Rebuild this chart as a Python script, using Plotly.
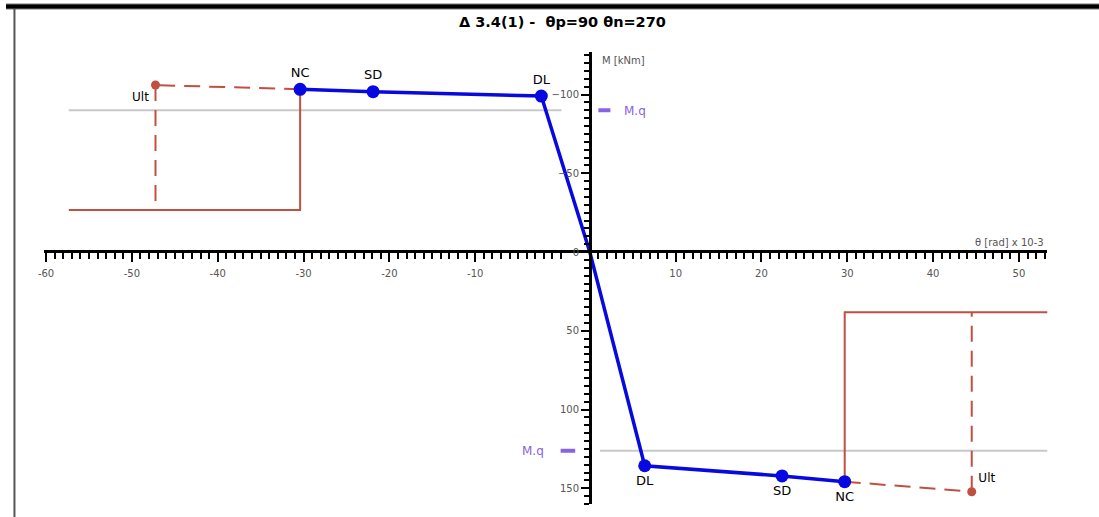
import plotly.graph_objects as go

# ---------------- data (theta in rad x 10^-3, M in kNm) ----------------
point_labels = ["DL", "SD", "NC"]
theta_neg = [-5.65, -25.25, -33.75]
moment_neg = [-99.0, -101.8, -103.3]
theta_pos = [6.4, 22.4, 29.7]
moment_pos = [135.7, 142.2, 145.8]
ult_theta = [-50.6, 44.5]
ult_moment = [-106.0, 152.2]
step_moment = [-26.7, 38.3]
step_theta_end = [-60.7, 53.4]
mq_moment = [-90.0, 126.2]
mq_span_neg = [-60.7, -3.3]
mq_span_pos = [1.2, 53.4]
x_tick_labels = [-60, -50, -40, -30, -20, -10, 10, 20, 30, 40, 50]
y_tick_values = [-100, -50, 0, 50, 100, 150]
neg_tick_shift = -3.35   # the negative half of the drawn axis is offset in the original

W, H = 1099, 517
BLUE = "#0808e0"
RED = "#c0503f"
GRAY = "#c8c8c8"
PURPLE = "#8a62e4"
FONT = "DejaVu Sans"

fig = go.Figure()

# M.q reference lines
fig.add_trace(go.Scatter(x=mq_span_neg, y=[mq_moment[0]] * 2, mode="lines",
                         line=dict(color=GRAY, width=2), hoverinfo="skip"))
fig.add_trace(go.Scatter(x=mq_span_pos, y=[mq_moment[1]] * 2, mode="lines",
                         line=dict(color=GRAY, width=2), hoverinfo="skip"))

# red solid steps
fig.add_trace(go.Scatter(
    x=[step_theta_end[0], theta_neg[2], theta_neg[2]],
    y=[step_moment[0], step_moment[0], moment_neg[2]],
    mode="lines", line=dict(color=RED, width=2)))
fig.add_trace(go.Scatter(
    x=[step_theta_end[1], theta_pos[2], theta_pos[2]],
    y=[step_moment[1], step_moment[1], moment_pos[2]],
    mode="lines", line=dict(color=RED, width=2)))

# red dashed (NC -> Ult, Ult vertical)
dash = "16px,9px"
fig.add_trace(go.Scatter(x=[theta_neg[2], ult_theta[0]], y=[moment_neg[2], ult_moment[0]],
                         mode="lines", line=dict(color=RED, width=2, dash=dash)))
fig.add_trace(go.Scatter(x=[ult_theta[0], ult_theta[0]], y=[ult_moment[0], step_moment[0]],
                         mode="lines", line=dict(color=RED, width=2, dash=dash)))
fig.add_trace(go.Scatter(x=[theta_pos[2], ult_theta[1]], y=[moment_pos[2], ult_moment[1]],
                         mode="lines", line=dict(color=RED, width=2, dash=dash)))
fig.add_trace(go.Scatter(x=[ult_theta[1], ult_theta[1]], y=[ult_moment[1], step_moment[1]],
                         mode="lines", line=dict(color=RED, width=2, dash=dash)))

# Ult markers
fig.add_trace(go.Scatter(x=[ult_theta[0]], y=[ult_moment[0]], mode="markers+text",
                         marker=dict(color=RED, size=9), text=["Ult"],
                         textposition="bottom left",
                         textfont=dict(family=FONT, size=12, color="black")))
fig.add_trace(go.Scatter(x=[ult_theta[1]], y=[ult_moment[1]], mode="markers+text",
                         marker=dict(color=RED, size=9), text=["Ult"],
                         textposition="top right",
                         textfont=dict(family=FONT, size=12, color="black")))

# blue backbone
bx = theta_neg[::-1] + [0] + theta_pos
by = moment_neg[::-1] + [0] + moment_pos
fig.add_trace(go.Scatter(x=bx, y=by, mode="lines", line=dict(color=BLUE, width=3.5)))
fig.add_trace(go.Scatter(x=theta_neg, y=moment_neg, mode="markers+text",
                         marker=dict(color=BLUE, size=13), text=point_labels,
                         textposition="top center",
                         textfont=dict(family=FONT, size=13, color="black")))
fig.add_trace(go.Scatter(x=theta_pos, y=moment_pos, mode="markers+text",
                         marker=dict(color=BLUE, size=13), text=point_labels,
                         textposition="bottom center",
                         textfont=dict(family=FONT, size=13, color="black")))

# M.q legend dashes
fig.add_trace(go.Scatter(x=[1.0, 2.4], y=[mq_moment[0]] * 2, mode="lines",
                         line=dict(color=PURPLE, width=4)))
fig.add_trace(go.Scatter(x=[-3.4, -1.7], y=[mq_moment[1]] * 2, mode="lines",
                         line=dict(color=PURPLE, width=4)))

# ticks
x_tickvals = [v + neg_tick_shift if v < 0 else v for v in x_tick_labels]
x_minor = [v + neg_tick_shift for v in range(-60, 1) if v % 10 != 0 or v == 0] + \
          [v for v in range(1, 54) if v % 10 != 0]

# axis geometry (pixels)
x0_px, x1_px, zero_x_px, px_per_x = 38, 1047, 587, 8.63
y0_px, y1_px, zero_y_px, px_per_y = 52, 504, 252, 1.575
x_range = [(x0_px - zero_x_px) / px_per_x, (x1_px - zero_x_px) / px_per_x]
y_range = [(y1_px - zero_y_px) / px_per_y, (y0_px - zero_y_px) / px_per_y]

fig.update_layout(
    width=W, height=H,
    margin=dict(l=0, r=0, t=0, b=0),
    paper_bgcolor="white", plot_bgcolor="white",
    showlegend=False,
    font=dict(family=FONT),
    xaxis=dict(
        domain=[x0_px / W, x1_px / W], range=x_range,
        anchor="free", position=(H - 251) / H,
        showgrid=False, zeroline=False,
        showline=True, linecolor="black", linewidth=2.5,
        tickmode="array", tickvals=x_tickvals, ticktext=[str(v) for v in x_tick_labels],
        ticks="outside", ticklen=9, tickwidth=2, tickcolor="black",
        ticklabelstandoff=3,
        tickfont=dict(family=FONT, size=10, color="#555555"),
        minor=dict(tickmode="array", tickvals=x_minor, ticks="outside",
                   ticklen=6, tickwidth=2, tickcolor="black", showgrid=False),
    ),
    yaxis=dict(
        domain=[(H - y1_px) / H, (H - y0_px) / H], range=y_range,
        anchor="free", position=zero_x_px / W,
        showgrid=False, zeroline=False,
        showline=True, linecolor="black", linewidth=2.5,
        tickmode="array", tickvals=y_tick_values,
        ticks="outside", ticklen=8, tickwidth=2, tickcolor="black",
        tickfont=dict(family=FONT, size=10, color="#555555"),
        minor=dict(dtick=5, tick0=0, ticks="outside",
                   ticklen=5, tickwidth=2, tickcolor="black", showgrid=False),
    ),
)

ann = [
    dict(text="<b>Δ 3.4(1) -  θp=90 θn=270</b>", x=560 / W, y=1 - 22 / H,
         font=dict(family=FONT, size=14.5, color="black")),
    dict(text="θ [rad] x 10-3", x=1046 / W, y=1 - 243 / H, xanchor="right",
         font=dict(family=FONT, size=10, color="#555555")),
    dict(text="M [kNm]", x=597 / W, y=1 - 60 / H, xanchor="left",
         font=dict(family=FONT, size=10, color="#555555")),
    dict(text="M.q", x=619 / W, y=1 - 111 / H, xanchor="left",
         font=dict(family=FONT, size=12, color=PURPLE)),
    dict(text="M.q", x=543 / W, y=1 - 451 / H, xanchor="right",
         font=dict(family=FONT, size=12, color=PURPLE)),
]
for a in ann:
    a.update(xref="paper", yref="paper", showarrow=False)
    a.setdefault("xanchor", "center")
    a["yanchor"] = "middle"
fig.update_layout(annotations=ann)

fig.update_layout(shapes=[
    dict(type="line", xref="paper", yref="paper", x0=0, x1=1,
         y0=1 - 6.5 / H, y1=1 - 6.5 / H, line=dict(color="#777777", width=6)),
    dict(type="line", xref="paper", yref="paper", x0=0, x1=1,
         y0=1 - 6.5 / H, y1=1 - 6.5 / H, line=dict(color="black", width=4)),
    dict(type="line", xref="paper", yref="paper", x0=8.5 / W, x1=8.5 / W,
         y0=0, y1=1 - 9 / H, line=dict(color="#555555", width=2)),
])

fig.write_html(
    "out.html",
    config=dict(displayModeBar=False),
    post_script="document.body.style.margin='0';document.body.style.overflow='hidden';",
)
